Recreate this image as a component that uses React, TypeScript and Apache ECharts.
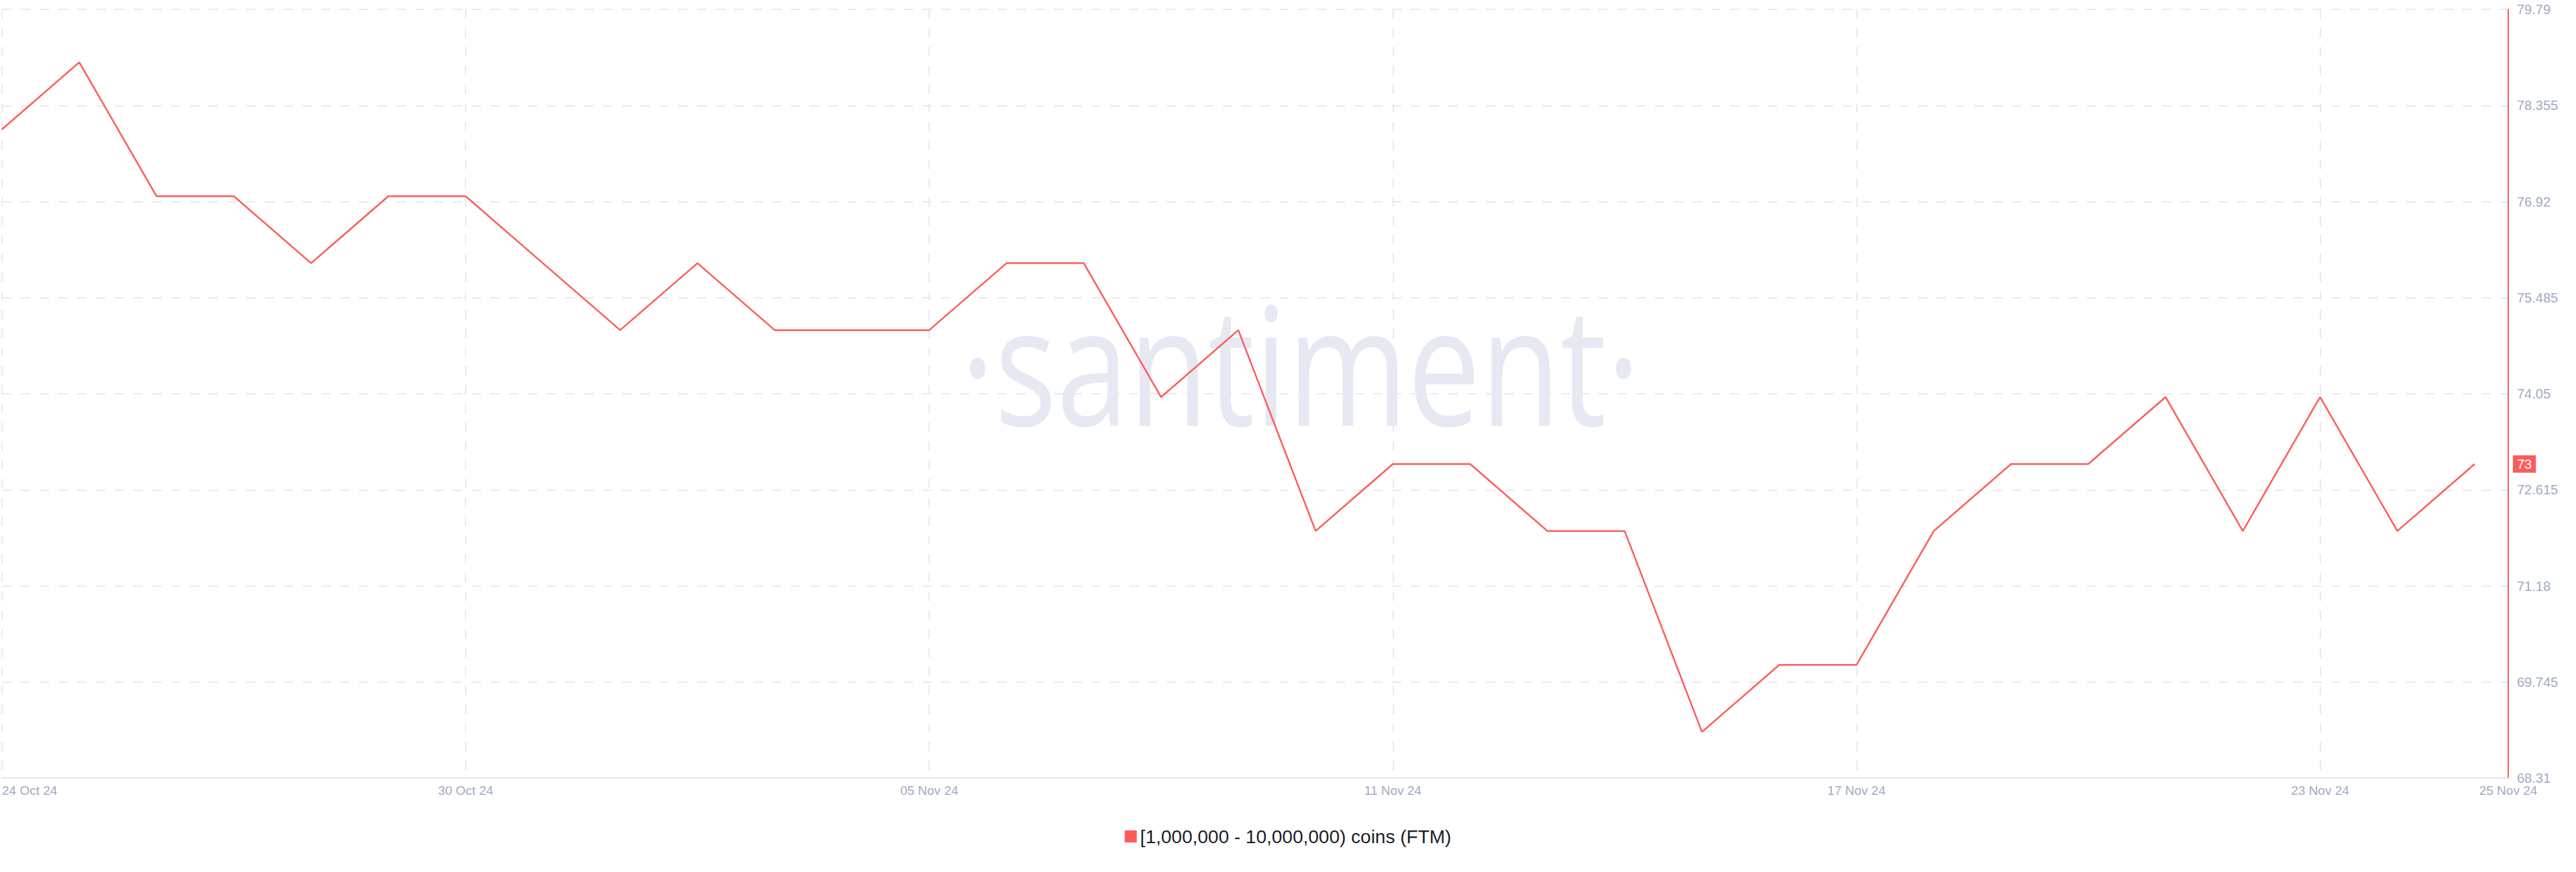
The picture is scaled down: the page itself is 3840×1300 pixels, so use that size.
import React, { useEffect, useRef } from "react";
import * as echarts from "echarts";

// Day labels (24 Oct 24 .. 25 Nov 24), one per data point
const dates = [
  "24 Oct 24", "25 Oct 24", "26 Oct 24", "27 Oct 24", "28 Oct 24", "29 Oct 24",
  "30 Oct 24", "31 Oct 24", "01 Nov 24", "02 Nov 24", "03 Nov 24", "04 Nov 24",
  "05 Nov 24", "06 Nov 24", "07 Nov 24", "08 Nov 24", "09 Nov 24", "10 Nov 24",
  "11 Nov 24", "12 Nov 24", "13 Nov 24", "14 Nov 24", "15 Nov 24", "16 Nov 24",
  "17 Nov 24", "18 Nov 24", "19 Nov 24", "20 Nov 24", "21 Nov 24", "22 Nov 24",
  "23 Nov 24", "24 Nov 24", "25 Nov 24",
];

// Number of holders with [1,000,000 - 10,000,000) FTM
const holders = [
  78, 79, 77, 77, 76, 77, 77, 76, 75, 76, 75, 75, 75, 76, 76, 74, 75,
  72, 73, 73, 72, 72, 69, 70, 70, 72, 73, 73, 74, 72, 74, 72, 73,
];

const seriesName = "[1,000,000 - 10,000,000) coins (FTM)";
const yMin = 68.31;
const yMax = 79.79;
const yStep = 1.435;
const xTickStep = 6;
const lastValue = holders[holders.length - 1];

const RED = "#ff5b5b";
const LABEL = "#9faac4";
const GRIDC = "#e7eaf2";

export default function App() {
  const ref = useRef<HTMLDivElement>(null);
  useEffect(() => {
    document.body.style.margin = "0";
    const chart = echarts.init(ref.current!, undefined, { renderer: "svg" });
    const xMax = holders.length - 1 + 0.435;
    chart.setOption({
      animation: false,
      grid: { left: 0, right: 101, top: 14, bottom: 140 },
      legend: {
        show: true,
        bottom: 34,
        left: "center",
        icon: "rect",
        itemWidth: 18,
        itemHeight: 18,
        itemGap: 10,
        textStyle: { color: "#1b1e2b", fontSize: 28, fontFamily: "Liberation Sans, Arial, sans-serif" },
        data: [seriesName],
      },
      graphic: [
        {
          type: "text",
          x: 1432,
          y: 540,
          scaleX: 0.79,
          z: -10,
          silent: true,
          style: {
            text: "·santiment·",
            font: '245px "Open Sans"',
            fill: "#e6e9f2",
            verticalAlign: "middle",
            align: "left",
          },
        },
      ],
      xAxis: {
        type: "value",
        min: 0,
        max: xMax,
        interval: xTickStep,
        axisLine: { show: true, onZero: false, lineStyle: { color: "#e3e6ef", width: 2 } },
        axisTick: { show: false },
        splitLine: { show: true, lineStyle: { type: [14, 14], color: GRIDC, width: 2 } },
        axisLabel: {
          color: LABEL,
          fontSize: 19,
          fontFamily: "Liberation Sans, Arial, sans-serif",
          margin: 9,
          showMinLabel: true,
          showMaxLabel: true,
          alignMinLabel: "left",
          formatter: (v: number) => (v > holders.length - 1 ? dates[dates.length - 1] : dates[Math.round(v)] ?? ""),
        },
      },
      yAxis: {
        type: "value",
        position: "right",
        min: yMin,
        max: yMax,
        interval: yStep,
        axisLine: { show: true, onZero: false, lineStyle: { color: RED, width: 2 } },
        axisTick: { show: false },
        splitLine: { show: true, lineStyle: { type: [14, 14], color: GRIDC, width: 2 } },
        axisLabel: {
          color: LABEL,
          fontSize: 20,
          fontFamily: "Liberation Sans, Arial, sans-serif",
          margin: 13,
          formatter: (v: number) => String(+v.toFixed(3)),
        },
      },
      series: [
        {
          type: "line",
          name: seriesName,
          data: holders.map((v, i) => [i, v]),
          symbol: "none",
          lineStyle: { color: RED, width: 2.5 },
          itemStyle: { color: RED },
          z: 5,
          markLine: {
            silent: true,
            symbol: ["none", "none"],
            lineStyle: { color: "rgba(0,0,0,0)", width: 0 },
            label: {
              show: true,
              position: "end",
              distance: 7,
              formatter: String(lastValue),
              color: "#ffffff",
              backgroundColor: RED,
              padding: [3, 6, 3, 6],
              fontSize: 20,
              fontFamily: "Liberation Sans, Arial, sans-serif",
            },
            data: [{ yAxis: lastValue }],
          },
        },
      ],
    });
    return () => chart.dispose();
  }, []);
  return (
    <div
      ref={ref}
      style={{ position: "absolute", left: 0, top: 0, width: 3840, height: 1300 }}
    />
  );
}
